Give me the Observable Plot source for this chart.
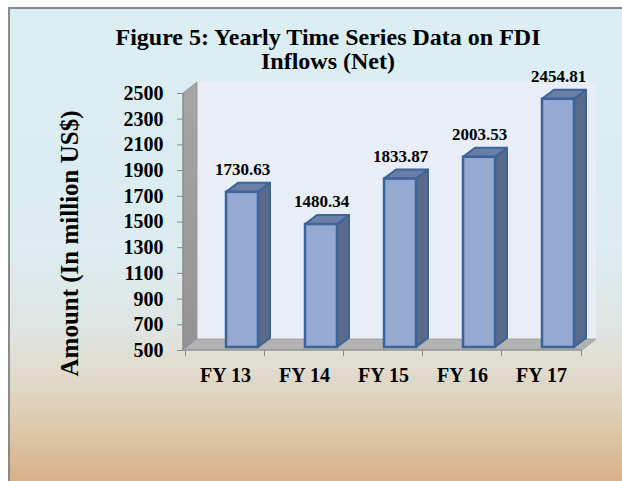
<!DOCTYPE html>
<html>
<head>
<meta charset="utf-8">
<script src="https://cdn.jsdelivr.net/npm/d3@7"></script>
<script src="https://cdn.jsdelivr.net/npm/@observablehq/plot@0.6"></script>
<style>
html, body { margin: 0; padding: 0; background: #fff; }
#wrap { position: relative; width: 622px; height: 481px; overflow: hidden; background: #fff; }
#panel {
  position: absolute; left: 8px; top: 7px; right: -6px; bottom: -6px;
  border-left: 2px solid #8a8a8a; border-top: 2px solid #8a8a8a;
  background: linear-gradient(to bottom, #dbeef3 0%, #dcecf0 50%, #dfe6e4 66%, #e0dbcd 76%, #ddc8aa 88%, #d8ae82 100%);
}
#chart { position: absolute; left: 0; top: 0; }
</style>
</head>
<body>
<div id="wrap"><div id="panel"></div><div id="chart"></div></div>
<script>
const categories = ["FY 13", "FY 14", "FY 15", "FY 16", "FY 17"];
const values = [1730.63, 1480.34, 1833.87, 2003.53, 2454.81];
const yTicks = [500, 700, 900, 1100, 1300, 1500, 1700, 1900, 2100, 2300, 2500];
const titleText = "Figure 5: Yearly Time Series Data on FDI\nInflows (Net)";
const yTitle = "Amount (In million US$)";

const data = categories.map((c, i) => ({cat: c, value: values[i]}));

const SERIF = "'Liberation Serif', 'Times New Roman', serif";
const WDX = 14, WDY = 11;   // wall depth
const BDX = 12, BDY = 9;    // bar depth
const OFF = 17;             // front face shift inside band

function wallsMark(index, scales, values, dim) {
  const L = dim.marginLeft, R = dim.width - dim.marginRight;
  const T = dim.marginTop, B = dim.height - dim.marginBottom;
  const g = d3.create("svg:g");
  const defs = g.append("defs");
  const lg = defs.append("linearGradient").attr("id", "wallGrad")
    .attr("x1", 0).attr("x2", 0).attr("y1", 0).attr("y2", 1);
  lg.append("stop").attr("offset", "0%").attr("stop-color", "#a6a6a6");
  lg.append("stop").attr("offset", "100%").attr("stop-color", "#939393");
  g.append("rect").attr("x", L + WDX).attr("y", T - WDY)
    .attr("width", R - L).attr("height", B - T).attr("fill", "#e9edf6");
  g.append("path").attr("d", `M${L},${T}L${L + WDX},${T - WDY}L${L + WDX},${B - WDY}L${L},${B}Z`)
    .attr("fill", "url(#wallGrad)").attr("stroke", "#8f8f8f").attr("stroke-width", 0.8);
  g.append("path").attr("d", `M${L},${B}L${L + WDX},${B - WDY}L${R + WDX},${B - WDY}L${R},${B}Z`)
    .attr("fill", "#b3b3b3").attr("stroke", "#9a9a9a").attr("stroke-width", 0.8);
  g.append("line").attr("x1", L).attr("x2", R).attr("y1", B).attr("y2", B)
    .attr("stroke", "#8c8c8c").attr("stroke-width", 1.2);
  g.append("line").attr("x1", L).attr("x2", L).attr("y1", T).attr("y2", B)
    .attr("stroke", "#8c8c8c").attr("stroke-width", 1.2);
  return g.node();
}

function barDepthMark(index, scales) {
  const x = scales.x, y = scales.y;
  const bw = x.bandwidth ? x.bandwidth() : 32;
  const g = d3.create("svg:g");
  for (const d of data) {
    const xl = x(d.cat) + OFF, xr = xl + bw;
    const yt = y(d.value), yb = y(500) - 3;
    g.append("path")
      .attr("d", `M${xr},${yt}L${xr + BDX},${yt - BDY}L${xr + BDX},${yb - BDY}L${xr},${yb}Z`)
      .attr("fill", "#5a6a8a").attr("stroke", "#3b6499").attr("stroke-width", 2).attr("stroke-linejoin", "round");
    g.append("path")
      .attr("d", `M${xl},${yt}L${xl + BDX},${yt - BDY}L${xr + BDX},${yt - BDY}L${xr},${yt}Z`)
      .attr("fill", "#6a7ea8").attr("stroke", "#3b6499").attr("stroke-width", 2).attr("stroke-linejoin", "round");
  }
  return g.node();
}

const chart = Plot.plot({
  width: 622,
  height: 481,
  marginLeft: 183,
  marginRight: 40,
  marginTop: 93,
  marginBottom: 131,
  style: {background: "none", fontFamily: SERIF, fontWeight: "bold", color: "#000", overflow: "visible"},
  x: {type: "band", domain: categories, paddingInner: 0.6, paddingOuter: 0.3, align: 0.5, axis: null, label: null},
  y: {domain: [500, 2500], axis: null, label: null},
  marks: [
    wallsMark,
    barDepthMark,
    Plot.barY(data, {x: "cat", y1: 500, y2: "value", dx: OFF, insetBottom: 3,
      fill: "#95a9d3", stroke: "#3b6499", strokeWidth: 2.5}),
    Plot.axisY(yTicks, {tickSize: 6, tickPadding: 14, fontSize: 20, fontWeight: "bold", stroke: "#8a8a8a", fill: "#000",
      tickFormat: d => String(d), label: null}),
    Plot.axisX(categories, {tickSize: 6, tickFormat: () => "", dx: -40, stroke: "#8a8a8a", label: null}),
    Plot.axisX([categories[categories.length - 1]], {tickSize: 6, tickFormat: () => "", dx: 40, stroke: "#8a8a8a", label: null}),
    Plot.axisX(categories, {tickSize: 0, tickPadding: 17, fontSize: 20, fontWeight: "bold", fill: "#000", label: null}),
    Plot.text(data, {x: "cat", y: "value", text: d => d.value.toFixed(2), dx: OFF, dy: -23,
      fontSize: 17, fontWeight: "bold", fill: "#000"}),
    Plot.text([titleText], {frameAnchor: "top", text: d => d, dx: -55, dy: -44.5, lineHeight: 1.04,
      lineAnchor: "middle", textAnchor: "middle", fontSize: 24, fontWeight: "bold", fill: "#000"}),
    Plot.text([yTitle], {frameAnchor: "left", text: d => d, rotate: -90, dx: -114, dy: 21.5,
      textAnchor: "middle", lineAnchor: "middle", fontSize: 25, fontWeight: "bold", fill: "#000"})
  ]
});
document.getElementById("chart").appendChild(chart);
</script>
</body>
</html>
